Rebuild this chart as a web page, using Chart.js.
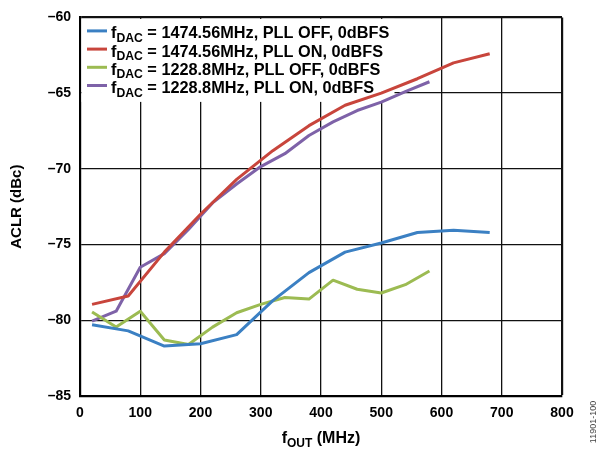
<!DOCTYPE html>
<html>
<head>
<meta charset="utf-8">
<script src="https://cdn.jsdelivr.net/npm/chart.js@4.4.0/dist/chart.umd.min.js"></script>
<style>
  html, body { margin: 0; padding: 0; background: #fff; }
  #wrap { width: 602px; height: 457px; position: relative; }
</style>
</head>
<body>
<div id="wrap"><canvas id="aclr"></canvas></div>
<script>
// output frequencies (MHz) for each fDAC
const fOut1474 = [20, 80, 140, 200, 260, 320, 380, 440, 500, 560, 620, 680];
const fOut1228 = [20, 60, 100, 140, 180, 220, 260, 300, 340, 380, 420, 460, 500, 540, 580];

// ACLR (dBc)
const aclr1474Off = [-80.3, -80.7, -81.7, -81.55, -80.95, -78.7, -76.85, -75.5, -74.9, -74.2, -74.05, -74.2];
const aclr1474On = [-78.95, -78.4, -75.5, -73.0, -70.7, -68.8, -67.15, -65.8, -65.0, -64.05, -63.0, -62.4];
const aclr1228Off = [-79.45, -80.45, -79.4, -81.3, -81.6, -80.45, -79.5, -78.95, -78.5, -78.6, -77.35, -77.95, -78.2, -77.65, -76.75];
const aclr1228On = [-80.05, -79.4, -76.5, -75.6, -74.0, -72.25, -71.0, -69.85, -69.0, -67.8, -66.9, -66.15, -65.6, -64.9, -64.25];

const seriesNames = [
  '1474.56MHz, PLL OFF, 0dBFS',
  '1474.56MHz, PLL ON, 0dBFS',
  '1228.8MHz, PLL OFF, 0dBFS',
  '1228.8MHz, PLL ON, 0dBFS'
];
const seriesColors = ['#3b80c3', '#c8453c', '#9cbb52', '#7e62a8'];

const xMin = 0, xMax = 800, xStep = 100;
const yMin = -85, yMax = -60, yStep = 5;

const FONT = '"Liberation Sans", Arial, Helvetica, sans-serif';

const pairs = (xs, ys) => xs.map((x, i) => ({ x, y: ys[i] }));
const seriesData = [
  pairs(fOut1474, aclr1474Off),
  pairs(fOut1474, aclr1474On),
  pairs(fOut1228, aclr1228Off),
  pairs(fOut1228, aclr1228On)
];

// text with a subscript part, e.g. f + DAC
function drawSub(ctx, main, sub, rest, x, y, size, subSize) {
  ctx.font = `bold ${size}px ${FONT}`;
  ctx.fillText(main, x, y);
  x += ctx.measureText(main).width;
  ctx.font = `bold ${subSize}px ${FONT}`;
  ctx.fillText(sub, x, y + 3.5);
  x += ctx.measureText(sub).width;
  ctx.font = `bold ${size}px ${FONT}`;
  ctx.fillText(rest, x, y);
  return x + ctx.measureText(rest).width;
}

const decorations = {
  id: 'decorations',
  beforeDatasetsDraw(chart) {
    const { ctx, chartArea: a } = chart;
    ctx.save();
    ctx.fillStyle = '#fff';
    ctx.fillRect(a.left + 1.5, a.top + 1.5, 313, 83);
    ctx.restore();
  },
  afterDatasetsDraw(chart) {
    const { ctx, chartArea: a } = chart;
    ctx.save();
    ctx.fillStyle = '#000';
    ctx.textBaseline = 'alphabetic';
    chart.data.datasets.forEach((ds, i) => {
      const y = a.top + 21 + i * 18.2;
      ctx.strokeStyle = ds.borderColor;
      ctx.lineWidth = 3;
      ctx.beginPath();
      ctx.moveTo(a.left + 7, y - 7.5);
      ctx.lineTo(a.left + 27, y - 7.5);
      ctx.stroke();
      drawSub(ctx, 'f', 'DAC', ' = ' + seriesNames[i], a.left + 31, y, 16.3, 12.2);
    });

    // x axis title with subscript
    ctx.font = `bold 16px ${FONT}`;
    const w = (() => {
      let t = ctx.measureText('f').width + ctx.measureText(' (MHz)').width;
      ctx.font = `bold 12px ${FONT}`;
      t += ctx.measureText('OUT').width;
      return t;
    })();
    const cx = (a.left + a.right) / 2;
    drawSub(ctx, 'f', 'OUT', ' (MHz)', cx - w / 2, 443, 16, 12);

    // figure id
    ctx.translate(596, 422);
    ctx.rotate(-Math.PI / 2);
    ctx.font = `9px ${FONT}`;
    ctx.fillStyle = '#444';
    ctx.textAlign = 'center';
    ctx.fillText('11901-100', 0, 0);
    ctx.restore();
  }
};

const edge = (v, edgeVal) => (v === edgeVal ? 2.2 : 1.3);

new Chart(document.getElementById('aclr'), {
  type: 'line',
  data: {
    datasets: seriesData.map((d, i) => ({
      label: seriesNames[i],
      data: d,
      borderColor: seriesColors[i],
      backgroundColor: seriesColors[i],
      borderWidth: 3,
      pointRadius: 0,
      tension: 0,
      borderJoinStyle: 'round',
      fill: false
    }))
  },
  options: {
    responsive: true,
    maintainAspectRatio: false,
    animation: false,
    layout: { padding: { top: 12, right: 40, left: 0, bottom: 0 } },
    plugins: { legend: { display: false }, tooltip: { enabled: false } },
    scales: {
      x: {
        type: 'linear',
        min: xMin, max: xMax,
        afterFit: s => { s.height = 61; },
        ticks: {
          stepSize: xStep,
          padding: 9,
          color: '#000',
          font: { family: FONT, size: 14, weight: 'bold' },
          maxRotation: 0
        },
        grid: {
          color: '#111',
          lineWidth: c => edge(c.tick && c.tick.value, xMax),
          drawTicks: false
        },
        border: { color: '#000', width: 2.2 }
      },
      y: {
        min: yMin, max: yMax,
        afterFit: s => { s.width = 80; },
        ticks: {
          stepSize: yStep,
          padding: 9,
          color: '#000',
          font: { family: FONT, size: 14, weight: 'bold' },
          callback: v => (v < 0 ? '\u2013' + Math.abs(v) : String(v))
        },
        grid: {
          color: '#111',
          lineWidth: c => edge(c.tick && c.tick.value, yMax),
          drawTicks: false
        },
        border: { color: '#000', width: 2.2 },
        title: {
          display: true,
          text: 'ACLR (dBc)',
          color: '#000',
          font: { family: FONT, size: 15, weight: 'bold' },
          padding: { top: 8, bottom: 0 }
        }
      }
    }
  },
  plugins: [decorations]
});
</script>
</body>
</html>
